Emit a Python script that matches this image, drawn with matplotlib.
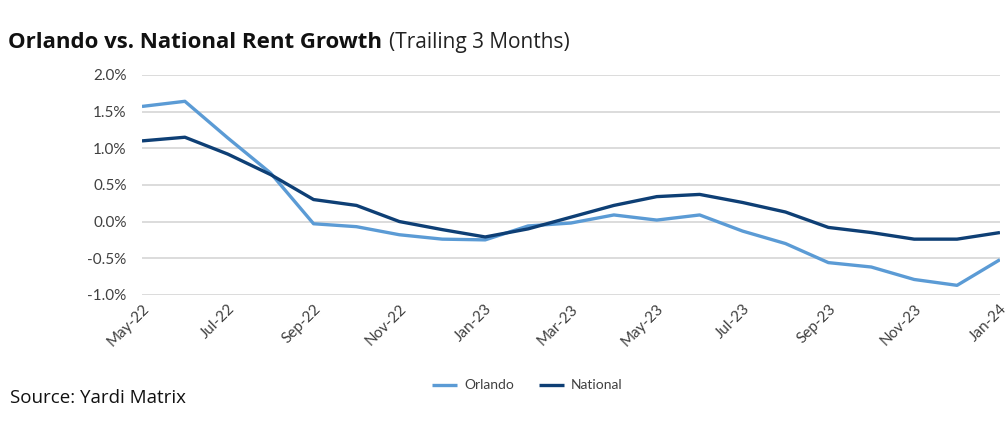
import numpy as np
import matplotlib
matplotlib.use('Agg')
import matplotlib.pyplot as pl
from matplotlib import rcParams
from matplotlib.ticker import FuncFormatter

rcParams['font.family'] = ['Lato', 'DejaVu Sans']

months = ['May-22', 'Jun-22', 'Jul-22', 'Aug-22', 'Sep-22', 'Oct-22', 'Nov-22',
          'Dec-22', 'Jan-23', 'Feb-23', 'Mar-23', 'Apr-23', 'May-23', 'Jun-23',
          'Jul-23', 'Aug-23', 'Sep-23', 'Oct-23', 'Nov-23', 'Dec-23', 'Jan-24']
orlando = [1.57, 1.64, 1.14, 0.66, -0.03, -0.07, -0.18, -0.24, -0.25, -0.06, -0.02,
           0.09, 0.02, 0.09, -0.13, -0.30, -0.56, -0.62, -0.79, -0.87, -0.52]
national = [1.10, 1.15, 0.92, 0.64, 0.30, 0.22, 0.00, -0.11, -0.21, -0.10, 0.06,
            0.22, 0.34, 0.37, 0.26, 0.13, -0.08, -0.15, -0.24, -0.24, -0.15]

c_orl = '#5B9BD5'
c_nat = '#0E3F75'

fig = pl.figure(figsize=(10.07, 4.33), dpi=100)
ax = fig.add_axes([0.141, 0.319, 0.852, 0.508])

x = np.arange(len(months))
l1, = ax.plot(x, orlando, color=c_orl, linewidth=2.4, solid_capstyle='butt')
l2, = ax.plot(x, national, color=c_nat, linewidth=2.4, solid_capstyle='butt')

ax.set_xlim(0, len(months) - 1)
ax.set_ylim(-1.0, 2.0)
ax.set_yticks([-1.0, -0.5, 0.0, 0.5, 1.0, 1.5, 2.0])
ax.yaxis.set_major_formatter(FuncFormatter(lambda v, p: '%.1f%%' % v))
ax.set_xticks(x[::2])
ax.set_xticklabels(months[::2], rotation=45, ha='right', rotation_mode='anchor')
ax.tick_params(axis='both', length=0, labelsize=11, colors='#404040')
ax.tick_params(axis='x', pad=5)
ax.tick_params(axis='y', pad=11)
ax.grid(axis='y', color='#d9d9d9', linewidth=1.3)
ax.set_axisbelow(True)
for s in ax.spines.values():
    s.set_visible(False)

t1 = fig.text(0.008, 0.89, 'Orlando vs. National Rent Growth', fontsize=16,
              fontweight='bold', color='#111111', family=['Open Sans', 'DejaVu Sans'])
fig.canvas.draw()
bb = t1.get_window_extent(fig.canvas.get_renderer())
x1 = bb.x1 / fig.bbox.width + 0.007
fig.text(x1, 0.89, '(Trailing 3 Months)', fontsize=15, color='#222222',
         family=['Open Sans', 'DejaVu Sans'])
fig.text(0.010, 0.07, 'Source: Yardi Matrix', fontsize=13.5, color='#111111',
         family=['Open Sans', 'DejaVu Sans'])

fig.legend([l1, l2], ['Orlando', 'National'], loc='center', ncol=2,
           bbox_to_anchor=(0.524, 0.11), frameon=False, fontsize=10,
           handlelength=1.8, handletextpad=0.5, columnspacing=1.8, labelcolor='#404040')

pl.savefig('out.png', dpi=100)
